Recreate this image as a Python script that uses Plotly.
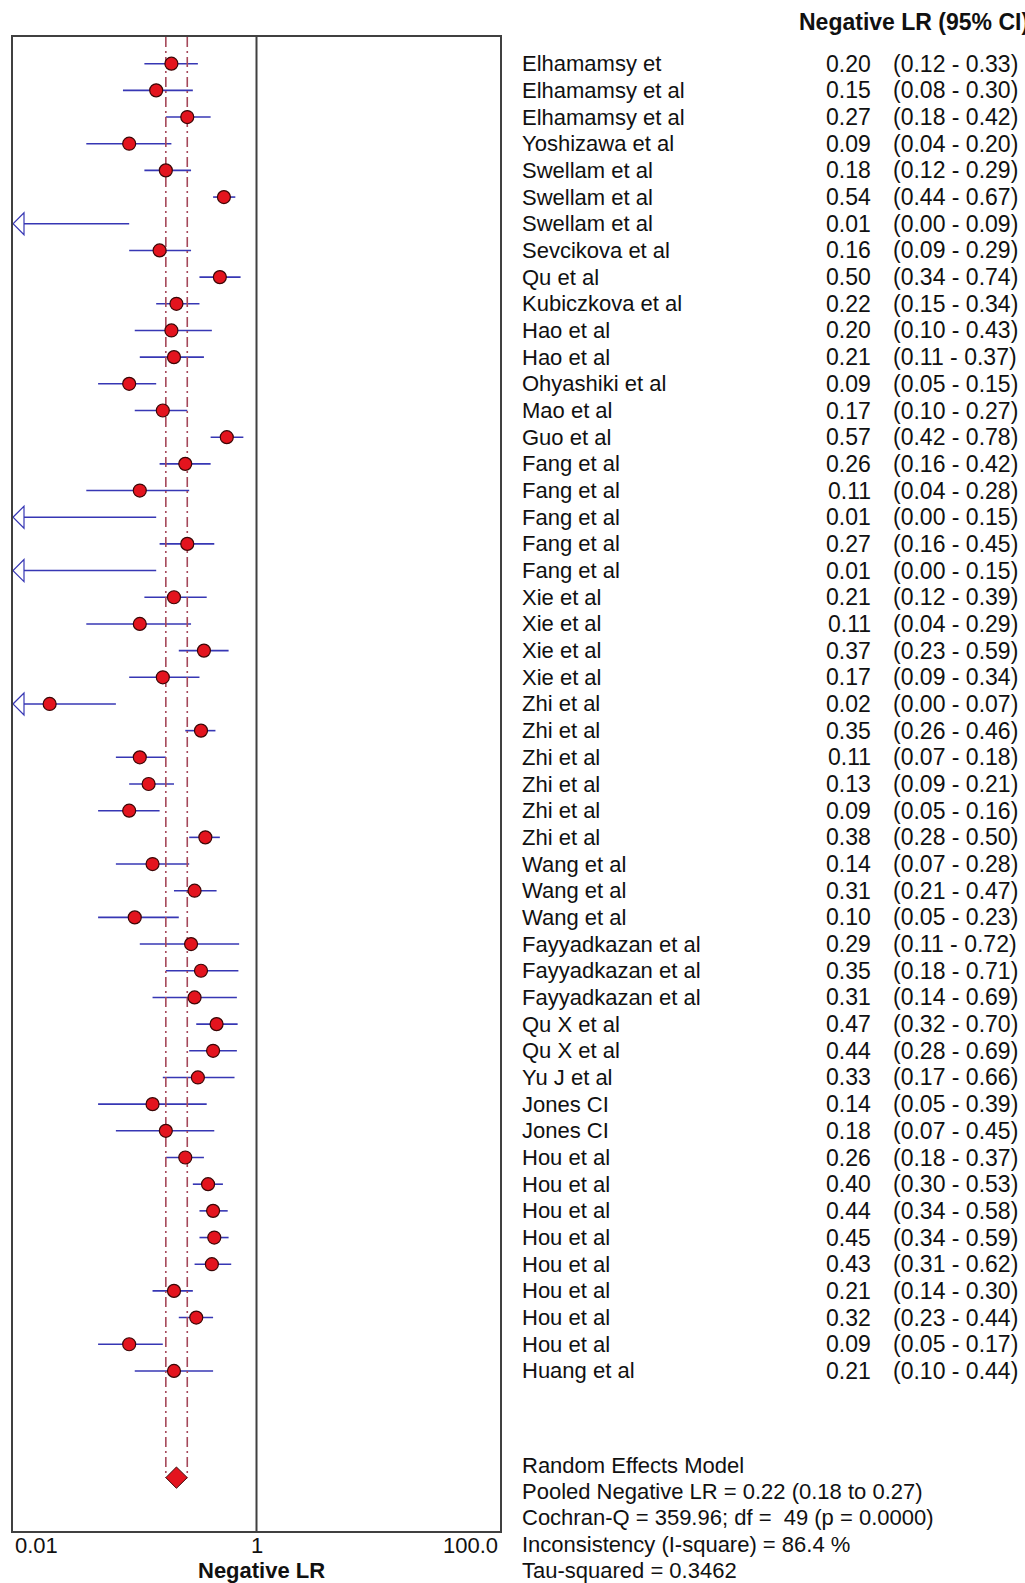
import math
import plotly.graph_objects as go

# ---------------- data ----------------
studies = [
    "Elhamamsy et", "Elhamamsy et al", "Elhamamsy et al", "Yoshizawa et al",
    "Swellam et al", "Swellam et al", "Swellam et al", "Sevcikova et al",
    "Qu et al", "Kubiczkova et al", "Hao et al", "Hao et al",
    "Ohyashiki et al", "Mao et al", "Guo et al", "Fang et al",
    "Fang et al", "Fang et al", "Fang et al", "Fang et al",
    "Xie et al", "Xie et al", "Xie et al", "Xie et al",
    "Zhi et al", "Zhi et al", "Zhi et al", "Zhi et al",
    "Zhi et al", "Zhi et al", "Wang et al", "Wang et al",
    "Wang et al", "Fayyadkazan et al", "Fayyadkazan et al", "Fayyadkazan et al",
    "Qu X et al", "Qu X et al", "Yu J et al", "Jones CI",
    "Jones CI", "Hou et al", "Hou et al", "Hou et al",
    "Hou et al", "Hou et al", "Hou et al", "Hou et al",
    "Hou et al", "Huang et al",
]
neg_lr = [
    0.20, 0.15, 0.27, 0.09, 0.18, 0.54, 0.01, 0.16, 0.50, 0.22,
    0.20, 0.21, 0.09, 0.17, 0.57, 0.26, 0.11, 0.01, 0.27, 0.01,
    0.21, 0.11, 0.37, 0.17, 0.02, 0.35, 0.11, 0.13, 0.09, 0.38,
    0.14, 0.31, 0.10, 0.29, 0.35, 0.31, 0.47, 0.44, 0.33, 0.14,
    0.18, 0.26, 0.40, 0.44, 0.45, 0.43, 0.21, 0.32, 0.09, 0.21,
]
ci_low = [
    0.12, 0.08, 0.18, 0.04, 0.12, 0.44, 0.00, 0.09, 0.34, 0.15,
    0.10, 0.11, 0.05, 0.10, 0.42, 0.16, 0.04, 0.00, 0.16, 0.00,
    0.12, 0.04, 0.23, 0.09, 0.00, 0.26, 0.07, 0.09, 0.05, 0.28,
    0.07, 0.21, 0.05, 0.11, 0.18, 0.14, 0.32, 0.28, 0.17, 0.05,
    0.07, 0.18, 0.30, 0.34, 0.34, 0.31, 0.14, 0.23, 0.05, 0.10,
]
ci_high = [
    0.33, 0.30, 0.42, 0.20, 0.29, 0.67, 0.09, 0.29, 0.74, 0.34,
    0.43, 0.37, 0.15, 0.27, 0.78, 0.42, 0.28, 0.15, 0.45, 0.15,
    0.39, 0.29, 0.59, 0.34, 0.07, 0.46, 0.18, 0.21, 0.16, 0.50,
    0.28, 0.47, 0.23, 0.72, 0.71, 0.69, 0.70, 0.69, 0.66, 0.39,
    0.45, 0.37, 0.53, 0.58, 0.59, 0.62, 0.30, 0.44, 0.17, 0.44,
]
pooled = 0.22
pooled_low = 0.18
pooled_high = 0.27

tick_vals = [0.01, 1, 100]
tick_text = ["0.01", "1", "100.0"]
tick_anchor = ["left", "center", "right"]

header_text = "Negative LR (95% CI)"
axis_title = "Negative LR"
summary_lines = [
    "Random Effects Model",
    "Pooled Negative LR = 0.22 (0.18 to 0.27)",
    "Cochran-Q = 359.96; df =  49 (p = 0.0000)",
    "Inconsistency (I-square) = 86.4 %",
    "Tau-squared = 0.3462",
]

# ---------------- layout constants ----------------
W, H = 1025, 1583
L, R, T, B = 13, 500, 37, 1531          # plot box in pixels
XMIN, XMAX = 0.01, 100
n = len(studies)
rows = list(range(1, n + 1))
Y_TOP, Y_BOT = 0, n + 6
DIAMOND_ROW = n + 4
DIAMOND_HALF = 0.4

FONT = "Liberation Sans, Arial, sans-serif"
FS = 22
FS_NUM = 23
BLUE = "#3737b4"
RED = "#e3141e"
DARK = "#3a0606"
DASHC = "#a5485a"
BOX = "#404040"
TXT = "#111111"


def px_x(px):
    return (px - L) / (R - L)


def px_y(py):
    return (B - py) / (B - T)


fig = go.Figure()

# confidence interval lines (clamped to the axis range)
cx, cy = [], []
for r, lo, hi in zip(rows, ci_low, ci_high):
    cx += [max(lo, XMIN), hi, None]
    cy += [r, r, None]
fig.add_trace(go.Scatter(x=cx, y=cy, mode="lines",
                         line=dict(color=BLUE, width=1.6),
                         hoverinfo="skip", showlegend=False))

# pooled CI reference lines
for xv in (pooled_low, pooled_high):
    fig.add_trace(go.Scatter(x=[xv, xv], y=[Y_TOP, DIAMOND_ROW], mode="lines",
                             line=dict(color=DASHC, width=1.6,
                                       dash="10px,4px,2px,4px"),
                             hoverinfo="skip", showlegend=False))

# point estimates (only those inside the axis range)
mx = [v for v in neg_lr if v > XMIN]
my = [r for r, v in zip(rows, neg_lr) if v > XMIN]
fig.add_trace(go.Scatter(x=mx, y=my, mode="markers",
                         marker=dict(symbol="circle", size=13, color=RED,
                                     line=dict(color=DARK, width=1.2)),
                         hoverinfo="skip", showlegend=False))

# pooled diamond
fig.add_trace(go.Scatter(
    x=[pooled_low, pooled, pooled_high, pooled, pooled_low],
    y=[DIAMOND_ROW, DIAMOND_ROW - DIAMOND_HALF, DIAMOND_ROW,
       DIAMOND_ROW + DIAMOND_HALF, DIAMOND_ROW],
    mode="lines", fill="toself", fillcolor=RED,
    line=dict(color=DARK, width=1), hoverinfo="skip", showlegend=False))

shapes = []
# vertical line at 1
shapes.append(dict(type="line", xref="x", yref="paper", x0=1, x1=1, y0=0, y1=1,
                   line=dict(color=BOX, width=2)))
# open arrows for CIs truncated at the axis minimum
for r, lo in zip(rows, ci_low):
    if lo < XMIN:
        shapes.append(dict(type="path", xref="x", yref="y",
                           xsizemode="pixel", ysizemode="pixel",
                           xanchor=XMIN, yanchor=r,
                           path="M0,0 L11,11 L11,-11 Z",
                           line=dict(color=BLUE, width=1.2),
                           fillcolor="white"))

annotations = []
for r, name, v, lo, hi in zip(rows, studies, neg_lr, ci_low, ci_high):
    annotations.append(dict(xref="paper", yref="y", x=px_x(520), y=r,
                            text=name, showarrow=False, xanchor="left",
                            yanchor="middle", font=dict(size=FS, color=TXT)))
    annotations.append(dict(xref="paper", yref="y", x=px_x(873), y=r,
                            text=f"{v:.2f}", showarrow=False, xanchor="right",
                            yanchor="middle", font=dict(size=FS_NUM, color=TXT)))
    annotations.append(dict(xref="paper", yref="y", x=px_x(891), y=r,
                            text=f"({lo:.2f} - {hi:.2f})", showarrow=False,
                            xanchor="left", yanchor="middle",
                            font=dict(size=FS_NUM, color=TXT)))

annotations.append(dict(xref="paper", yref="paper", x=px_x(797), y=px_y(22),
                        text=f"<b>{header_text}</b>", showarrow=False,
                        xanchor="left", yanchor="middle",
                        font=dict(size=23, color=TXT)))

for i, line in enumerate(summary_lines):
    annotations.append(dict(xref="paper", yref="paper", x=px_x(520),
                            y=px_y(1465 + i * 26.4), text=line, showarrow=False,
                            xanchor="left", yanchor="middle",
                            font=dict(size=FS, color=TXT)))

for tv, tt, ta in zip(tick_vals, tick_text, tick_anchor):
    annotations.append(dict(xref="x", yref="paper", x=math.log10(tv),
                            y=px_y(1546), text=tt, showarrow=False,
                            xanchor=ta, yanchor="middle",
                            font=dict(size=FS, color=TXT)))

annotations.append(dict(xref="paper", yref="paper", x=0.51, y=px_y(1571),
                        text=f"<b>{axis_title}</b>", showarrow=False,
                        xanchor="center", yanchor="middle",
                        font=dict(size=22, color=TXT)))

fig.update_layout(
    width=W, height=H,
    margin=dict(l=L, r=W - R, t=T, b=H - B, pad=0),
    paper_bgcolor="white", plot_bgcolor="white",
    font=dict(family=FONT),
    shapes=shapes, annotations=annotations,
    showlegend=False,
    xaxis=dict(type="log", range=[math.log10(XMIN), math.log10(XMAX)],
               showgrid=False, zeroline=False, showticklabels=False, ticks="",
               showline=True, mirror=True, linecolor=BOX, linewidth=2,
               fixedrange=True),
    yaxis=dict(range=[Y_BOT, Y_TOP], showgrid=False, zeroline=False,
               showticklabels=False, ticks="", showline=True, mirror=True,
               linecolor=BOX, linewidth=2, fixedrange=True),
)

fig.write_html(
    "out.html",
    config={"displayModeBar": False, "staticPlot": True},
    post_script="document.body.style.margin='0';document.body.style.overflow='hidden';",
)
